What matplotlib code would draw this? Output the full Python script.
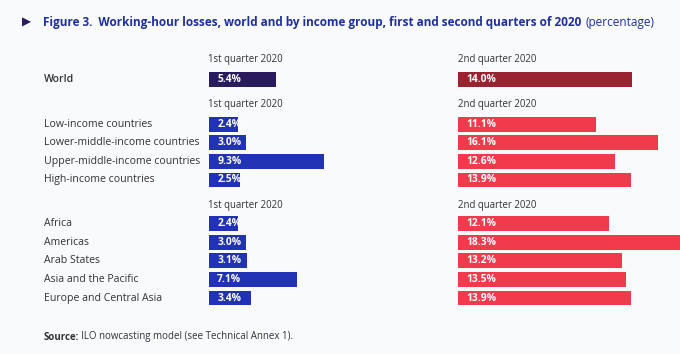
import matplotlib.pyplot as plt
from matplotlib.transforms import blended_transform_factory

# data
world_q1 = [5.4]
world_q2 = [14.0]
income_groups = ['Low-income countries', 'Lower-middle-income countries',
                 'Upper-middle-income countries', 'High-income countries']
income_q1 = [2.4, 3.0, 9.3, 2.5]
income_q2 = [11.1, 16.1, 12.6, 13.9]
regions = ['Africa', 'Americas', 'Arab States', 'Asia and the Pacific',
           'Europe and Central Asia']
region_q1 = [2.4, 3.0, 3.1, 7.1, 3.4]
region_q2 = [12.1, 18.3, 13.2, 13.5, 13.9]

BG = '#f9fafc'
NAVY = '#2a1b5e'
DARKRED = '#9a2331'
BLUE = '#2232b4'
RED = '#f23a4d'
TXT = '#333333'
TITLE = '#1f2f9e'

plt.rcParams['font.family'] = ['Open Sans', 'DejaVu Sans']

W, H = 680, 354
fig = plt.figure(figsize=(W / 100, H / 100), dpi=100, facecolor=BG)

# row layout (rows of 18.6 px, world row centred at y=79.5 px)
row_px = 18.6
y0 = 79.5
ylim = ((H - y0) / row_px, -y0 / row_px)
px = 12.45  # pixels per percentage point

world_rows = [0]
income_rows = [2.4 + i for i in range(4)]
region_rows = [7.75 + i for i in range(5)]
header_rows = [-1.05, 1.37, 6.75]


def make_ax(left_px, right_px):
    ax = fig.add_axes([left_px / W, 0, (right_px - left_px) / W, 1])
    ax.set_xlim(0, (right_px - left_px) / px)
    ax.set_ylim(*ylim)
    ax.axis('off')
    return ax


ax1 = make_ax(208.5, 440)
ax2 = make_ax(458, 680)

groups = [
    (world_rows, world_q1, world_q2, NAVY, DARKRED),
    (income_rows, income_q1, income_q2, BLUE, RED),
    (region_rows, region_q1, region_q2, BLUE, RED),
]

for rows, q1, q2, c1, c2 in groups:
    ax1.barh(rows, q1, height=0.8, color=c1)
    ax2.barh(rows, q2, height=0.8, color=c2)
    for r, v in zip(rows, q1):
        ax1.text(0.7, r, f'{v:.1f}%', color='white', fontsize=7.4,
                 fontweight='bold', va='center', ha='left')
    for r, v in zip(rows, q2):
        ax2.text(0.65, r, f'{v:.1f}%', color='white', fontsize=7.4,
                 fontweight='bold', va='center', ha='left')

for r in header_rows:
    ax1.text(0, r, '1st quarter 2020', color=TXT, fontsize=6.9,
             va='center', ha='left')
    ax2.text(0, r, '2nd quarter 2020', color=TXT, fontsize=6.9,
             va='center', ha='left')

# category labels
tr = blended_transform_factory(fig.transFigure, ax1.transData)
ax1.text(44 / W, world_rows[0], 'World', transform=tr, color=TXT,
         fontsize=7.6, fontweight='semibold', va='center', ha='left')
for r, name in zip(income_rows + region_rows, income_groups + regions):
    ax1.text(44 / W, r, name, transform=tr, color=TXT, fontsize=7.6,
             va='center', ha='left')

# title
fig.text(22 / W, 1 - 22 / H, '\u25b6', color=NAVY, fontsize=8.5,
         va='center', ha='left', family=['DejaVu Sans'])
t = fig.text(43 / W, 1 - 26 / H,
             'Figure 3.  Working-hour losses, world and by income group, '
             'first and second quarters of 2020',
             color=TITLE, fontsize=8.5, fontweight='bold', va='baseline',
             ha='left')
fig.canvas.draw()
bb = t.get_window_extent()
fig.text(bb.x1 / W + 4 / W, 1 - 26 / H, '(percentage)', color=TITLE,
         fontsize=8.5, va='baseline', ha='left')

# source
s = fig.text(44 / W, 1 - 339.5 / H, 'Source:', color=TXT, fontsize=7,
             fontweight='bold', va='baseline', ha='left')
fig.canvas.draw()
bb = s.get_window_extent()
fig.text(bb.x1 / W + 2 / W, 1 - 339.5 / H,
         'ILO nowcasting model (see Technical Annex 1).', color=TXT,
         fontsize=7, va='baseline', ha='left')

fig.savefig('out.png', dpi=100, facecolor=BG)
